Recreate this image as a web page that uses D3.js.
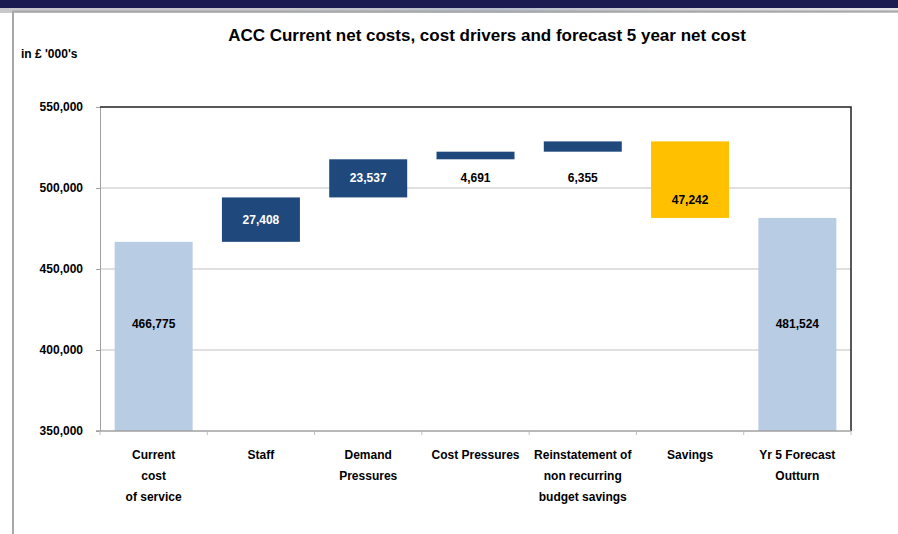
<!DOCTYPE html>
<html>
<head>
<meta charset="utf-8">
<script src="https://cdn.jsdelivr.net/npm/d3@7"></script>
<style>
  body { margin: 0; background: #fff; }
  svg text { font-family: "Liberation Sans Narrow", "Arial Narrow", "Liberation Sans", Arial, sans-serif; font-weight: bold; }
</style>
</head>
<body>
<svg id="chart" width="898" height="534"></svg>
<script>
// categories (each label split into lines)
var categories = [
  ["Current", "cost", "of service"],
  ["Staff"],
  ["Demand", "Pressures"],
  ["Cost Pressures"],
  ["Reinstatement of", "non recurring", "budget savings"],
  ["Savings"],
  ["Yr 5 Forecast", "Outturn"]
];
// change values; "total" bars start at the axis
var values = [466775, 27408, 23537, 4691, 6355, -47242, 481524];
var kinds = ["total", "up", "up", "up", "up", "down", "total"];
var yTicks = [350000, 400000, 450000, 500000, 550000];

var svg = d3.select("#chart");
var W = 898, H = 534;
var m = { left: 100, right: 47, top: 107, bottom: 103 };

// header band and frame
var defs = svg.append("defs");
var g1 = defs.append("linearGradient").attr("id", "shade").attr("x1", 0).attr("x2", 1);
g1.append("stop").attr("offset", "0").attr("stop-color", "#c8c8cc");
g1.append("stop").attr("offset", "0.3").attr("stop-color", "#c8c8cc");
g1.append("stop").attr("offset", "0.55").attr("stop-color", "#b4bccb");
g1.append("stop").attr("offset", "0.75").attr("stop-color", "#d0d0d4");
g1.append("stop").attr("offset", "1").attr("stop-color", "#e4e4e8");
svg.append("rect").attr("x", 0).attr("y", 8).attr("width", W).attr("height", 5).attr("fill", "url(#shade)");
svg.append("rect").attr("x", 0).attr("y", 0).attr("width", W).attr("height", 8).attr("fill", "#1b1b52");
svg.append("rect").attr("x", 13).attr("y", 13).attr("width", W - 13).attr("height", H - 13).attr("fill", "#fff");
svg.append("path").attr("d", "M13," + H + "V11.5H" + W)
  .attr("fill", "none").attr("stroke", "#a8a8a8").attr("stroke-width", 2);

// title
svg.append("text").attr("x", 487).attr("y", 41).attr("text-anchor", "middle")
  .attr("font-size", 17).attr("fill", "#000")
  .text("ACC Current net costs, cost drivers and forecast 5 year net cost");
svg.append("text").attr("x", 21).attr("y", 58).attr("font-size", 12).attr("fill", "#000")
  .text("in £ '000's");

// scales
var x = d3.scaleBand().domain(d3.range(categories.length))
  .range([m.left, W - m.right]).paddingInner(0.273).paddingOuter(0.1365);
var y = d3.scaleLinear().domain([350000, 550000]).range([H - m.bottom, m.top]);

// waterfall segments
var running = 0;
var bars = values.map(function (v, i) {
  var lo, hi;
  if (kinds[i] === "total") { lo = 350000; hi = v; running = v; }
  else { lo = running; hi = running + v; running = hi; }
  return { i: i, v: v, kind: kinds[i], y0: Math.min(lo, hi), y1: Math.max(lo, hi) };
});

// gridlines
svg.append("g").selectAll("line").data(yTicks.slice(1, -1)).join("line")
  .attr("x1", m.left).attr("x2", W - m.right)
  .attr("y1", function (d) { return y(d); }).attr("y2", function (d) { return y(d); })
  .attr("stroke", "#c0c0c0").attr("stroke-width", 1);

// y axis
var yAxis = svg.append("g").attr("transform", "translate(" + m.left + ",0)")
  .call(d3.axisLeft(y).tickValues(yTicks).tickSize(4).tickPadding(13).tickFormat(d3.format(",")));
yAxis.select(".domain").attr("stroke", "#a0a0a0");
yAxis.selectAll(".tick line").attr("stroke", "#a0a0a0");
yAxis.selectAll("text").attr("font-size", 12).attr("fill", "#000")
  .style("font-family", null);

// bars
var fill = { total: "#b8cce4", up: "#1f497d", down: "#ffc000" };
svg.append("g").selectAll("rect").data(bars).join("rect")
  .attr("x", function (d) { return x(d.i); })
  .attr("width", x.bandwidth())
  .attr("y", function (d) { return y(d.y1); })
  .attr("height", function (d) { return y(d.y0) - y(d.y1); })
  .attr("fill", function (d) { return fill[d.kind]; });

// plot frame: dark top and right, grey bottom
svg.append("path").attr("d", "M" + m.left + "," + m.top + "H" + (W - m.right) + "V" + (H - m.bottom))
  .attr("fill", "none").attr("stroke", "#222").attr("stroke-width", 1.5);
var xAxisY = H - m.bottom;
svg.append("line").attr("x1", m.left - 4).attr("x2", W - m.right)
  .attr("y1", xAxisY).attr("y2", xAxisY).attr("stroke", "#a0a0a0").attr("stroke-width", 1.5);
var step = (W - m.right - m.left) / categories.length;
svg.append("g").selectAll("line").data(d3.range(categories.length + 1)).join("line")
  .attr("x1", function (d) { return m.left + d * step; })
  .attr("x2", function (d) { return m.left + d * step; })
  .attr("y1", xAxisY).attr("y2", xAxisY + 4).attr("stroke", "#c0c0c0");

// category labels
var cat = svg.append("g").selectAll("text").data(categories).join("text")
  .attr("text-anchor", "middle").attr("font-size", 12).attr("fill", "#000")
  .attr("x", function (d, i) { return x(i) + x.bandwidth() / 2; })
  .attr("y", 459);
cat.selectAll("tspan").data(function (d) { return d; }).join("tspan")
  .attr("x", function () { return d3.select(this.parentNode).attr("x"); })
  .attr("dy", function (d, j) { return j === 0 ? 0 : 21; })
  .text(function (d) { return d; });

// value labels; thin bars get their label underneath on a shared line
var thin = bars.filter(function (d) { return y(d.y0) - y(d.y1) < 15; });
var thinY = d3.max(thin, function (d) { return y(d.y0); }) + 23;
svg.append("g").selectAll("text").data(bars).join("text")
  .attr("text-anchor", "middle").attr("font-size", 12)
  .attr("x", function (d) { return x(d.i) + x.bandwidth() / 2; })
  .attr("y", function (d) {
    var top = y(d.y1), bot = y(d.y0);
    if (bot - top < 15) return thinY;
    if (d.kind === "total") return y(416000) + 4;
    if (d.kind === "down") return bot - 14;
    return (top + bot) / 2 + 4;
  })
  .attr("fill", function (d) { return d.kind === "up" && y(d.y0) - y(d.y1) >= 15 ? "#fff" : "#000"; })
  .text(function (d) { return d3.format(",")(Math.abs(d.v)); });
</script>
</body>
</html>
